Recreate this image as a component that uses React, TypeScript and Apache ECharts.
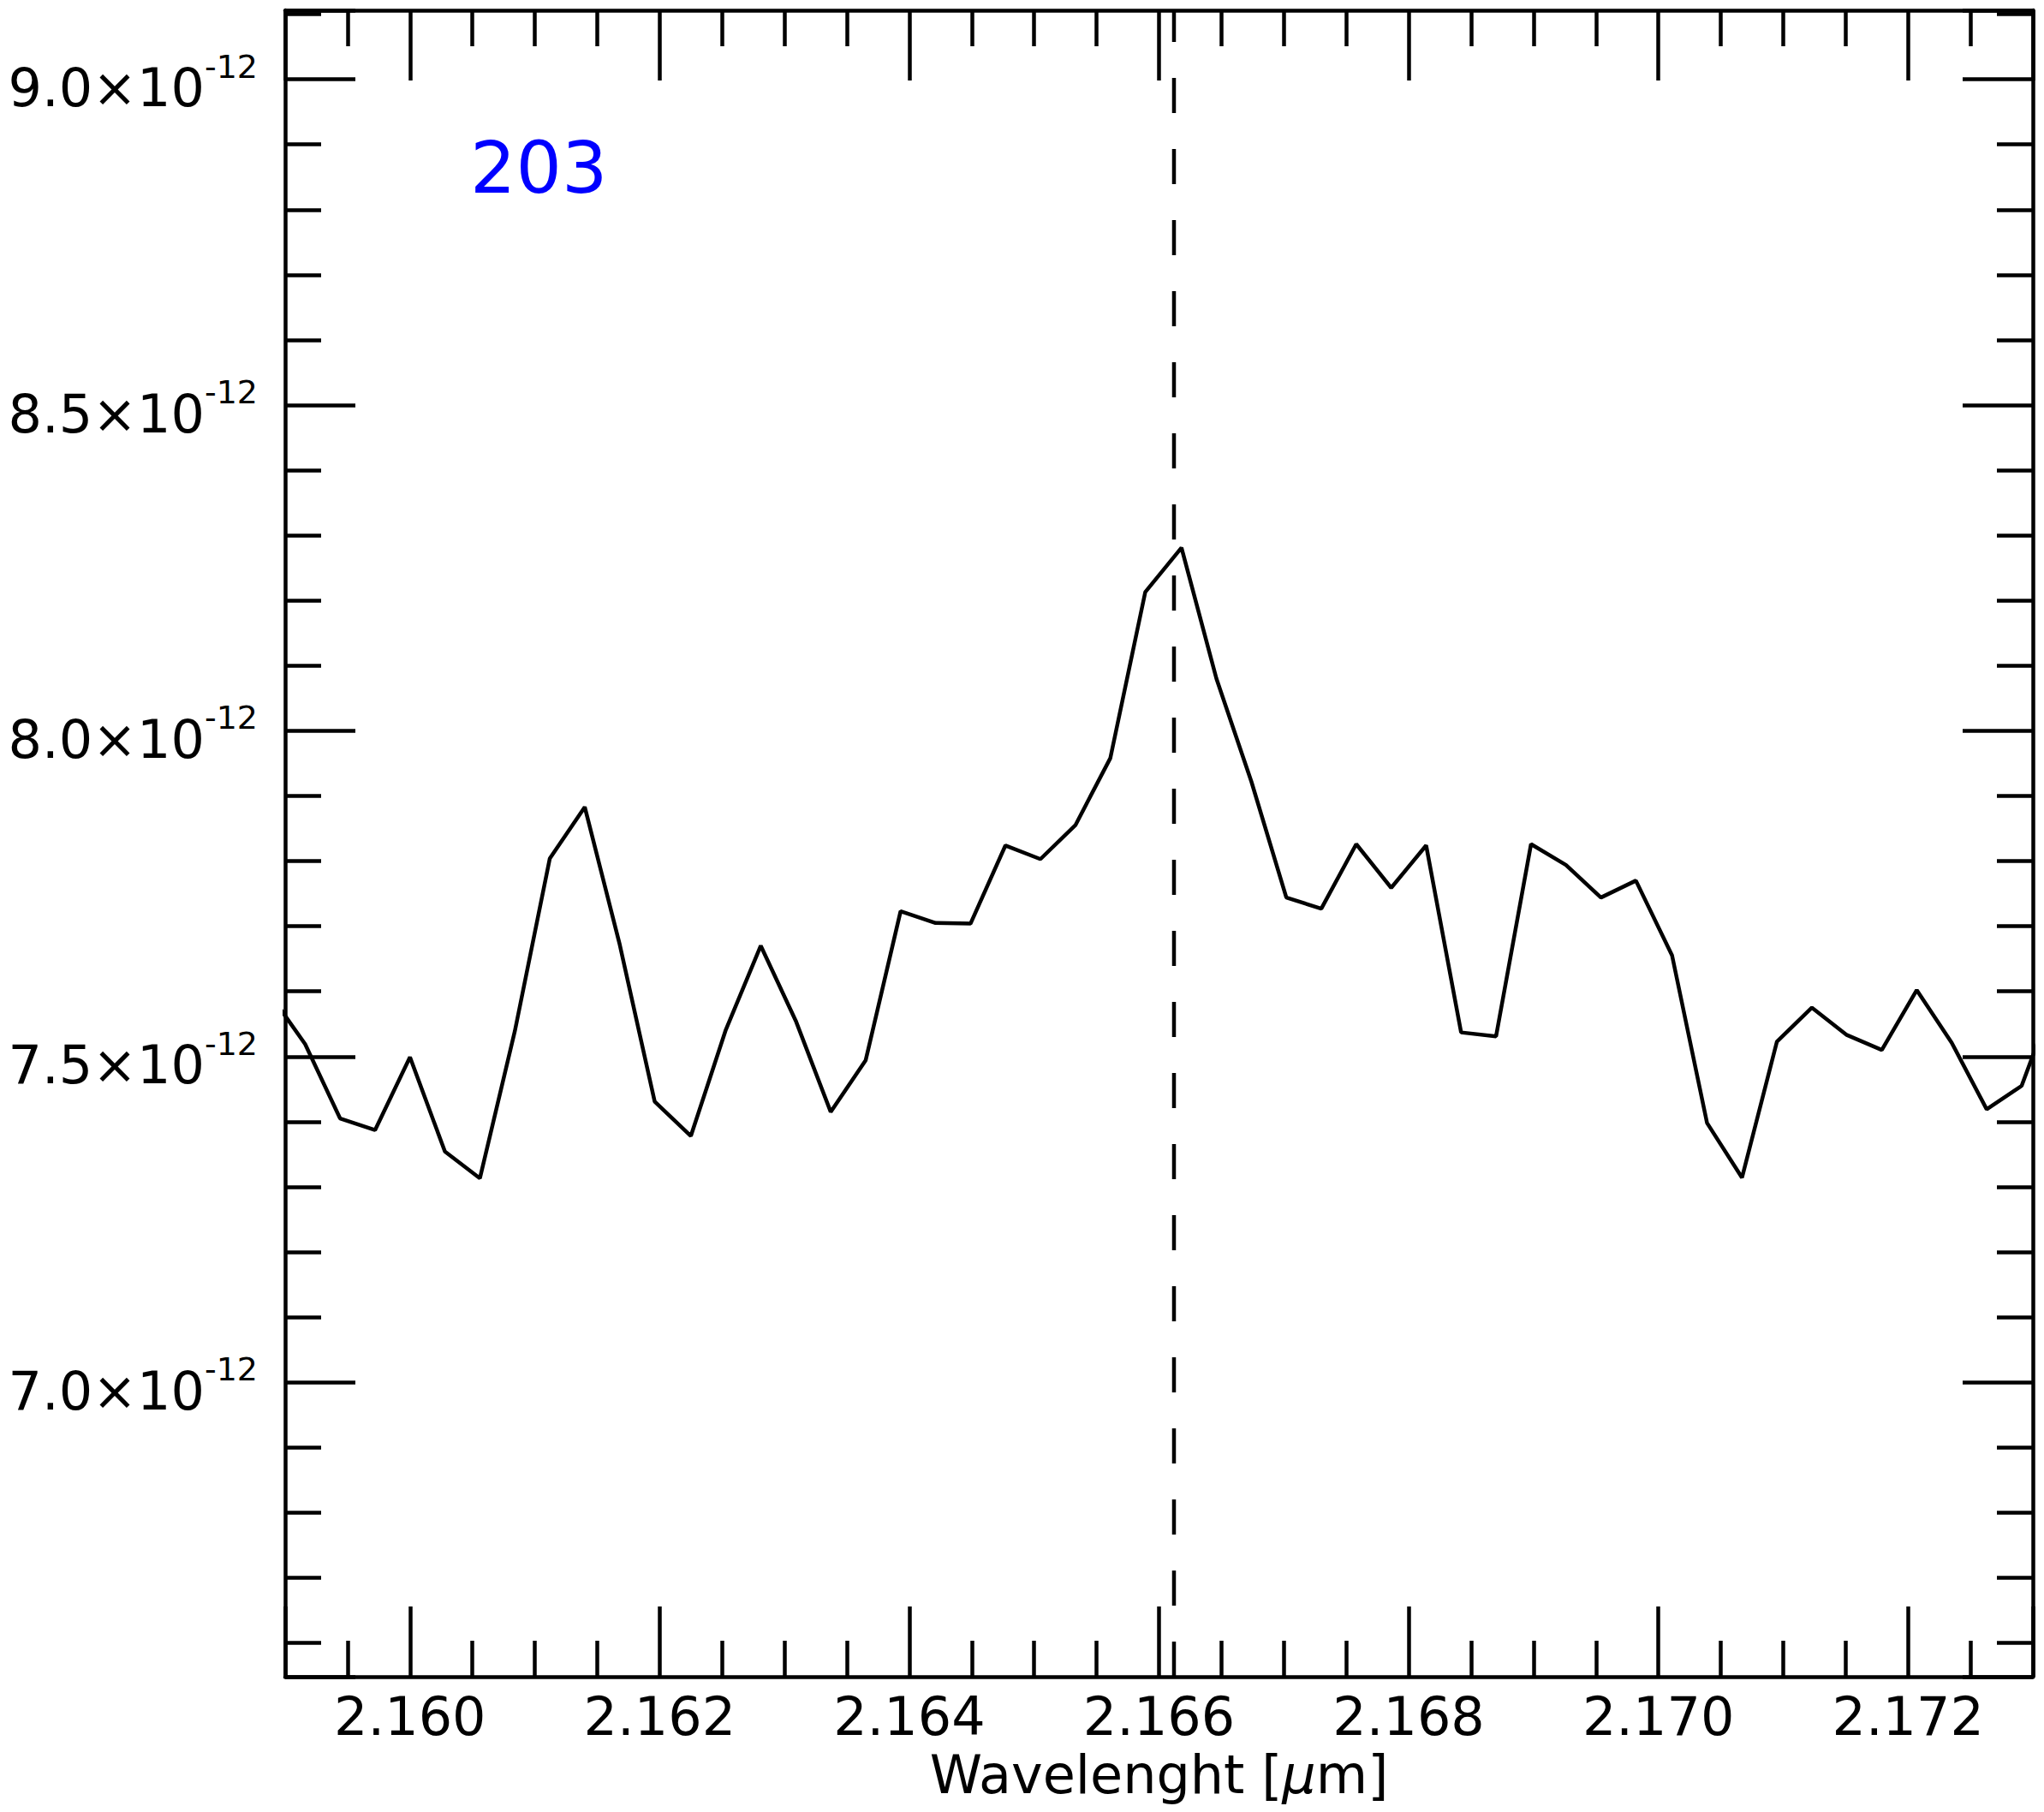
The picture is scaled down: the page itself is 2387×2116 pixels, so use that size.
import React, { useEffect, useRef } from "react";
import * as echarts from "echarts";

// Spectrum (wavelength in micron, flux as plotted)
const wavelengths = [
  2.15888, 2.15916, 2.15944, 2.15972, 2.16, 2.16028, 2.16056, 2.16084, 2.16112, 2.1614,
  2.16168, 2.16196, 2.16225, 2.16253, 2.16281, 2.16309, 2.16337, 2.16365, 2.16393, 2.16421,
  2.16449, 2.16477, 2.16505, 2.16533, 2.16561, 2.16589, 2.16618, 2.16646, 2.16674, 2.16702,
  2.1673, 2.16758, 2.16786, 2.16814, 2.16842, 2.1687, 2.16898, 2.16926, 2.16954, 2.16982,
  2.17011, 2.17039, 2.17067, 2.17095, 2.17123, 2.17151, 2.17179, 2.17207, 2.17235, 2.17263,
  2.17291, 2.17319,
];

const flux = [
  7.595e-12, 7.519e-12, 7.405e-12, 7.387e-12, 7.499e-12, 7.354e-12, 7.313e-12, 7.539e-12, 7.804e-12, 7.883e-12,
  7.672e-12, 7.431e-12, 7.378e-12, 7.541e-12, 7.67e-12, 7.555e-12, 7.415e-12, 7.494e-12, 7.723e-12, 7.705e-12,
  7.704e-12, 7.824e-12, 7.803e-12, 7.855e-12, 7.958e-12, 8.213e-12, 8.281e-12, 8.08e-12, 7.922e-12, 7.744e-12,
  7.727e-12, 7.826e-12, 7.759e-12, 7.824e-12, 7.537e-12, 7.531e-12, 7.826e-12, 7.794e-12, 7.744e-12, 7.77e-12,
  7.655e-12, 7.398e-12, 7.314e-12, 7.523e-12, 7.575e-12, 7.533e-12, 7.51e-12, 7.602e-12, 7.521e-12, 7.419e-12,
  7.455e-12, 7.6e-12,
];

const lineCenter = 2.16612; // dashed reference line
const xRange = [2.159, 2.173];
const yRange = [6.548e-12, 9.106e-12];
const panelLabel = "203";
const yExponent = "-12";

const FONT = "DejaVu Sans";
const BLACK = "#000000";

export default function App() {
  const ref = useRef<HTMLDivElement>(null);

  useEffect(() => {
    if (!ref.current) return;
    const chart = echarts.init(ref.current, undefined, { renderer: "svg" });

    const tickCommon = {
      axisLine: { show: true, onZero: false, lineStyle: { color: BLACK, width: 4.5 } },
      axisTick: { show: true, inside: true, length: 82, lineStyle: { color: BLACK, width: 4.5 } },
      splitLine: { show: false },
    };

    const option: any = {
      animation: false,
      backgroundColor: "#ffffff",
      title: {
        text: panelLabel,
        left: 549,
        top: 154,
        padding: 0,
        textStyle: { color: "#0000ff", fontSize: 84, fontWeight: "normal", fontFamily: FONT },
      },
      grid: { left: 333, right: 13, top: 12, bottom: 158, containLabel: false, outerBoundsMode: "none" },
      xAxis: [
        {
          type: "value",
          position: "bottom",
          min: xRange[0],
          max: xRange[1],
          splitNumber: 7,
          ...tickCommon,
          minorTick: { show: true, splitNumber: 4, length: 42, lineStyle: { color: BLACK, width: 4.5 } },
          axisLabel: {
            show: true,
            margin: 15,
            showMinLabel: false,
            showMaxLabel: false,
            color: BLACK,
            fontSize: 62,
            fontFamily: FONT,
            formatter: (v: number) => v.toFixed(3),
          },
          name: "Wavelenght [{mu|μ}m]",
          nameLocation: "middle",
          nameGap: 83,
          nameTextStyle: {
            color: BLACK,
            fontSize: 62,
            fontFamily: FONT,
            rich: { mu: { fontSize: 62, fontStyle: "italic", fontFamily: FONT, color: BLACK } },
          },
        },
        {
          type: "value",
          position: "top",
          min: xRange[0],
          max: xRange[1],
          splitNumber: 7,
          ...tickCommon,
          minorTick: { show: true, splitNumber: 4, length: 42, lineStyle: { color: BLACK, width: 4.5 } },
          axisLabel: { show: false },
        },
      ],
      yAxis: [
        {
          type: "value",
          position: "left",
          min: yRange[0],
          max: yRange[1],
          splitNumber: 5,
          ...tickCommon,
          minorTick: { show: true, splitNumber: 5, length: 42, lineStyle: { color: BLACK, width: 4.5 } },
          axisLabel: {
            show: true,
            margin: 32,
            showMinLabel: false,
            showMaxLabel: false,
            padding: [20, 0, 0, 0],
            formatter: (v: number) => `{a|${(v / 1e-12).toFixed(1)}×10}{b|${yExponent}}`,
            rich: {
              a: { fontSize: 62, lineHeight: 80, fontFamily: FONT, color: BLACK },
              b: { fontSize: 38, lineHeight: 30, height: 30, verticalAlign: "top", fontFamily: FONT, color: BLACK },
            },
          },
        },
        {
          type: "value",
          position: "right",
          min: yRange[0],
          max: yRange[1],
          splitNumber: 5,
          ...tickCommon,
          minorTick: { show: true, splitNumber: 5, length: 42, lineStyle: { color: BLACK, width: 4.5 } },
          axisLabel: { show: false },
        },
      ],
      series: [
        {
          type: "line",
          name: "spectrum",
          xAxisIndex: 0,
          yAxisIndex: 0,
          data: wavelengths.map((w, i) => [w, flux[i]]),
          showSymbol: false,
          symbol: "none",
          clip: true,
          lineStyle: { color: BLACK, width: 4.5 },
        },
        {
          type: "line",
          name: "line center",
          xAxisIndex: 0,
          yAxisIndex: 0,
          data: [
            [lineCenter, yRange[0]],
            [lineCenter, yRange[1]],
          ],
          showSymbol: false,
          symbol: "none",
          clip: true,
          silent: true,
          lineStyle: { color: BLACK, width: 4.5, type: [41, 42] },
        },
      ],
    };

    chart.setOption(option);
    return () => chart.dispose();
  }, []);

  return (
    <div
      ref={ref}
      style={{ position: "absolute", left: 0, top: 0, width: 2387, height: 2116, background: "#fff" }}
    />
  );
}
